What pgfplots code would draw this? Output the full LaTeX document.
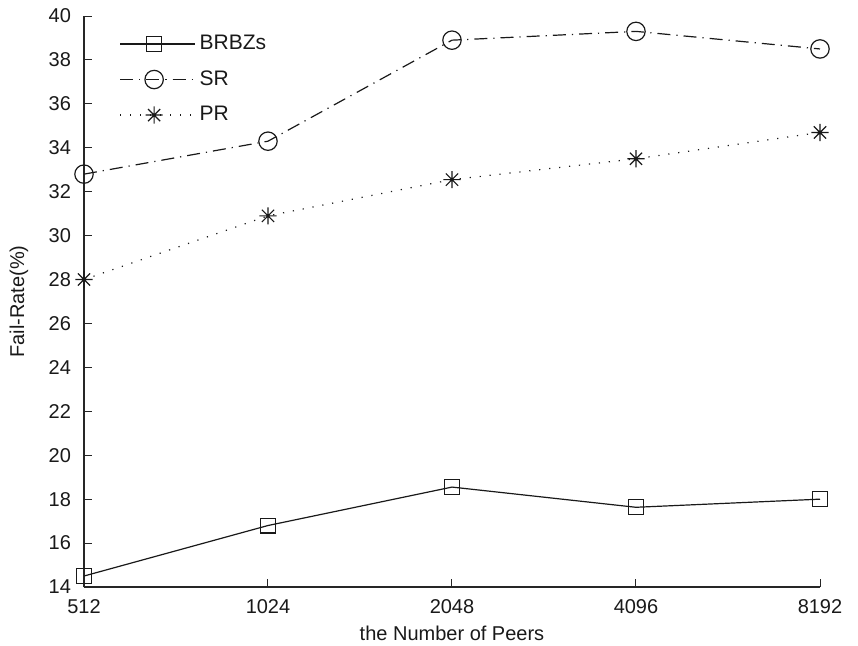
\documentclass[border=0pt]{standalone}
\usepackage{fontspec}
\setmainfont{Liberation Sans}
\usepackage{pgfplots}
\pgfplotsset{compat=1.18}
\pgfdeclareplotmark{eightstar}{%
  \pgfpathmoveto{\pgfqpoint{0pt}{\pgfplotmarksize}}%
  \pgfpathlineto{\pgfqpoint{0pt}{-\pgfplotmarksize}}%
  \pgfpathmoveto{\pgfqpoint{\pgfplotmarksize}{0pt}}%
  \pgfpathlineto{\pgfqpoint{-\pgfplotmarksize}{0pt}}%
  \pgfpathmoveto{\pgfqpoint{0.707\pgfplotmarksize}{0.707\pgfplotmarksize}}%
  \pgfpathlineto{\pgfqpoint{-0.707\pgfplotmarksize}{-0.707\pgfplotmarksize}}%
  \pgfpathmoveto{\pgfqpoint{0.707\pgfplotmarksize}{-0.707\pgfplotmarksize}}%
  \pgfpathlineto{\pgfqpoint{-0.707\pgfplotmarksize}{0.707\pgfplotmarksize}}%
  \pgfusepathqstroke}
\begin{document}
\fontsize{10pt}{12pt}\selectfont
\begin{tikzpicture}
\useasboundingbox (-42pt,-29pt) rectangle (387pt,293.5pt);
\begin{axis}[
  at={(0,0)}, anchor=south west,
  scale only axis, width=368pt, height=285.5pt,
  xmin=0, xmax=4, ymin=14, ymax=40,
  axis x line=bottom, axis y line=left,
  axis line style={-, line width=0.6pt, black!85},
  xtick={0,1,2,3,4},
  xticklabels={512,1024,2048,4096,8192},
  ytick={14,16,...,40},
  tick align=inside,
  major tick length=3.8pt,
  tick style={line width=0.5pt, black!85},
  /pgf/number format/assume math mode=true,
  ticklabel style={font=\fontsize{10pt}{12pt}\selectfont, text=black!90},
  xticklabel style={yshift=-2.5pt},
  yticklabel style={xshift=-3pt},
  xlabel={the Number of Peers},
  ylabel={Fail-Rate(\%)},
  label style={font=\fontsize{10pt}{12pt}\selectfont, text=black!90},
  xlabel style={at={(axis description cs:0.5,-0.0806)}, anchor=center},
  ylabel style={at={(axis description cs:-0.0883,0.5)}, anchor=center, rotate=0},
  legend style={draw=none, fill=none, at={(axis description cs:0.0396,0.981)}, anchor=north west,
    font=\fontsize{10.5pt}{12pt}\selectfont, row sep=5pt, text=black!90},
  legend cell align=left,
  legend image code/.code={\draw[mark repeat=2,mark phase=2,#1] plot coordinates {(0pt,0pt) (17pt,0pt) (34pt,0pt)};
    \path (0pt,0pt) -- (37.5pt,0pt);},
  clip=false,
]
\addplot[black!90, line width=0.6pt, mark=square, mark size=3.7pt, mark options={solid, line width=0.6pt}]
  coordinates {(0,14.5) (1,16.8) (2,18.55) (3,17.63) (4,18.0)};
\addlegendentry{BRBZs}
\addplot[black!90, line width=0.6pt, dash pattern=on 6.5pt off 3pt on 0.6pt off 3pt, mark=o, mark size=4.6pt, mark options={solid, line width=0.6pt}]
  coordinates {(0,32.8) (1,34.3) (2,38.9) (3,39.3) (4,38.5)};
\addlegendentry{SR}
\addplot[black!90, line width=0.6pt, dash pattern=on 0.6pt off 4.4pt, mark=eightstar, mark size=4.3pt, mark options={solid, line width=0.6pt}]
  coordinates {(0,28.0) (1,30.9) (2,32.55) (3,33.5) (4,34.7)};
\addlegendentry{PR}
\end{axis}
\end{tikzpicture}
\end{document}
